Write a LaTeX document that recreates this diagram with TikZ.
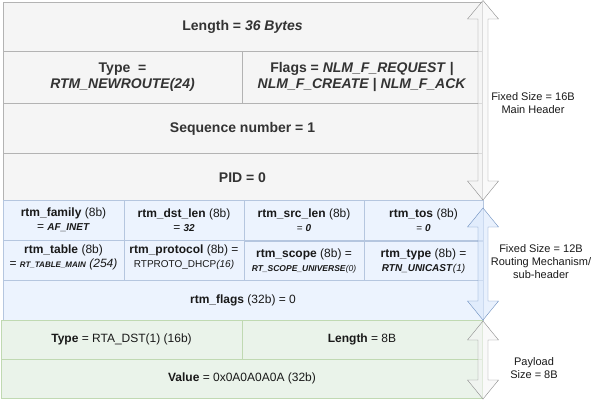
\documentclass[tikz,border=0pt]{standalone}
\usepackage{fontspec}
\setmainfont{Liberation Sans}
\usetikzlibrary{positioning}

\definecolor{hdrfill}{HTML}{F5F5F5}
\definecolor{hdrline}{HTML}{B3B3B3}
\definecolor{hdrtext}{HTML}{333333}
\definecolor{blueF}{HTML}{DAE8FC}
\definecolor{blueL}{HTML}{6C8EBF}
\definecolor{greenF}{HTML}{D5E8D4}
\definecolor{greenL}{HTML}{82B366}
\definecolor{grayL}{HTML}{8C8C8C}

\newcommand{\fsz}[2]{\fontsize{#1}{#2}\selectfont}
\newcommand{\bi}[1]{\textbf{\textit{#1}}}

\begin{document}
\begin{tikzpicture}[x=1pt, y=-1pt,
    hdr/.style={draw=hdrline, fill=hdrfill, text=hdrtext, inner sep=0pt,
        align=center, font=\bfseries\fsz{14}{16}},
    subcell/.style={draw=blueL!50!white, fill=blueF!50!white, inner sep=0pt,
        align=center, font=\fsz{12}{14}, text=black!90},
    paycell/.style={draw=greenL!50!white, fill=greenF!50!white, inner sep=0pt,
        align=center, font=\fsz{12}{14}, text=black!90},
    side/.style={align=center, font=\fsz{11}{13}, text=black!90},
    grayarrow/.style={draw=grayL, fill=hdrfill, fill opacity=0.6},
    bluearrow/.style={draw=blueL, fill=blueF, fill opacity=0.6}]

    \useasboundingbox (0,0) rectangle (591,400);

    % Main header (16B)
    \node [hdr, minimum width=479pt, minimum height=50pt] (len) at (242.5,27) {Length = \textit{36 Bytes}};
    \node [hdr, minimum width=239pt, minimum height=52pt] (type) at (122.5,77) {Type\ \ =\\ \textit{RTM\_NEWROUTE(24)}};
    \node [hdr, minimum width=240pt, minimum height=52pt] (flags) at (362,77) {Flags = \textit{NLM\_F\_REQUEST} |\\ \textit{NLM\_F\_CREATE} | \textit{NLM\_F\_ACK}};
    \node [hdr, minimum width=479pt, minimum height=51pt] (seq) at (242.5,128.5) {Sequence number = 1};
    \node [hdr, minimum width=479pt, minimum height=50pt] (pid) at (242.5,178) {PID = 0};

    % Routing sub-header (12B)
    \node [subcell, minimum width=121pt, minimum height=40pt] (family) at (63.5,220) {\textbf{rtm\_family} (8b)\\ = {\fsz{10}{12}\bi{AF\_INET}}};
    \node [subcell, minimum width=120pt, minimum height=40pt] (dstlen) at (184,220) {\textbf{rtm\_dst\_len} (8b)\\ = {\fsz{10}{12}\bi{32}}};
    \node [subcell, minimum width=120pt, minimum height=40pt] (srclen) at (304,220) {\textbf{rtm\_src\_len} (8b)\\ {\fsz{10}{12}= \bi{0}}};
    \node [subcell, minimum width=119pt, minimum height=40pt] (tos) at (423.5,220) {\textbf{rtm\_tos} (8b)\\ {\fsz{10}{12}= \bi{0}}};
    \node [subcell, minimum width=121pt, minimum height=40pt] (table) at (63.5,260) {\textbf{rtm\_table} (8b)\\ = {\fsz{8}{10}\bi{RT\_TABLE\_MAIN}} \textit{(254)}\\[-6pt]\mbox{}};
    \node [subcell, minimum width=120pt, minimum height=40pt] (proto) at (184,260) {\textbf{rtm\_protocol} (8b) =\\ {\fsz{10}{12}RTPROTO\_DHCP\textit{(16)}}\\[-6pt]\mbox{}};
    \node [subcell, minimum width=120pt, minimum height=40pt] (scope) at (304,261) {\textbf{rtm\_scope} (8b) =\\ {\fsz{8.5}{10}\bi{RT\_SCOPE\_UNIVERSE}\textit{(0)}}};
    \node [subcell, minimum width=119pt, minimum height=40pt] (rtype) at (423.5,261) {\textbf{rtm\_type} (8b) =\\ {\fsz{10}{12}\bi{RTN\_UNICAST}\textit{(1)}}};
    \node [subcell, minimum width=480pt, minimum height=40pt] (rflags) at (243,300) {\textbf{rtm\_flags} (32b) = 0};

    % Payload (8B)
    \node [paycell, minimum width=241pt, minimum height=39pt] (atype) at (121.5,339.5) {\textbf{Type} = RTA\_DST(1) (16b)};
    \node [paycell, minimum width=240pt, minimum height=39pt] (alen) at (362,339.5) {\textbf{Length} = 8B};
    \node [paycell, minimum width=481pt, minimum height=39pt] (aval) at (242,378.5) {\textbf{Value} = 0x0A0A0A0A (32b)};

    % Size arrows
    \draw [grayarrow] (483,0.5) -- (498.5,19) -- (488,19) -- (488,181) -- (498.5,181) -- (483,200)
        -- (467.5,181) -- (478,181) -- (478,19) -- (467.5,19) -- cycle;
    \draw [bluearrow] (483,208) -- (498.5,227) -- (488,227) -- (488,301) -- (498.5,301) -- (483,320)
        -- (467.5,301) -- (478,301) -- (478,227) -- (467.5,227) -- cycle;
    \draw [grayarrow] (483,321) -- (498.5,340) -- (488,340) -- (488,380) -- (498.5,380) -- (483,399)
        -- (467.5,380) -- (478,380) -- (478,340) -- (467.5,340) -- cycle;

    % Size labels
    \node [side] (mainsz) at (533,103) {Fixed Size = 16B\\ Main Header};
    \node [side] (subsz) at (541,262) {Fixed Size = 12B\\ Routing Mechanism/\\ sub-header};
    \node [side] (paysz) at (534,368) {Payload\\ Size = 8B};
\end{tikzpicture}
\end{document}
